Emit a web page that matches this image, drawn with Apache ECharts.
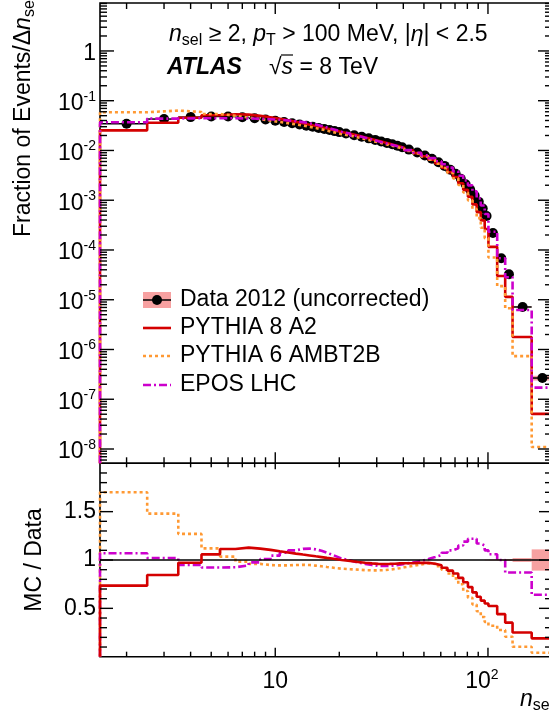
<!DOCTYPE html>
<html><head><meta charset="utf-8">
<script src="https://cdn.jsdelivr.net/npm/echarts@6/dist/echarts.min.js"></script>
<style>html,body{margin:0;padding:0;background:#fff;}#c{width:549px;height:720px;}</style>
</head><body><div id="c"></div>
<script>
// ---------------- data ----------------
const binEdges = [1.5,2.5,3.5,4.5,5.5,6.5,7.5,8.5,9.5,10.5,11.5,12.5,13.5,14.5,15.5,16.5,17.5,18.5,19.5,20.5,
  22.5,24.5,26.5,28.5,30.5,32.5,34.5,36.5,38.5,40.5,
  44.5,48.5,52.5,56.5,60.5,64.5,68.5,72.5,76.5,80.5,84.5,88.5,92.5,96.5,100.5,
  110.5,120.5,130.5,160.5,200];
const dataValues = [0.0345,0.0428,0.0468,0.0482,0.0480,0.0466,0.0444,0.0420,0.0396,0.0373,0.0352,0.0333,0.0315,0.0299,0.0284,0.0270,0.0257,0.0245,0.0234,
  0.0219,0.0203,0.0188,0.0175,0.0163,0.0152,0.0142,0.0133,0.0124,0.0116,
  0.0104,0.0091,0.0079,0.0068,0.0058,0.0049,0.0041,0.0034,0.0027,0.0021,0.00163,0.00124,0.00093,0.00068,0.00048,
  0.00022,6.8e-5,3.25e-5,7.15e-6,2.67e-7];
const dataRelErr = [0,0,0,0,0,0,0,0,0,0,0,0,0,0,0,0,0,0,0,
  0,0,0,0,0,0,0,0,0,0,
  0,0,0,0,0,0,0,0,0,0,0,0,0,0,0.003,
  0.005,0.008,0.01,0.02,0.11];
const pythia8Ratio = [0.735,0.845,0.972,1.058,1.114,1.128,1.118,1.105,1.09,1.078,1.066,1.056,1.047,1.038,1.03,1.022,1.015,1.008,1.0,
  0.99,0.98,0.972,0.965,0.96,0.958,0.96,0.962,0.965,0.966,
  0.968,0.972,0.97,0.962,0.945,0.92,0.89,0.86,0.815,0.77,0.72,0.665,0.62,0.58,0.55,
  0.525,0.44,0.352,0.25,0.19];
const pythia6Ratio = [1.70,1.48,1.27,1.12,1.035,0.983,0.96,0.948,0.944,0.945,0.948,0.95,0.948,0.942,0.935,0.928,0.922,0.915,0.91,
  0.905,0.9,0.895,0.893,0.893,0.895,0.9,0.907,0.915,0.925,
  0.94,0.955,0.965,0.96,0.935,0.9,0.86,0.81,0.75,0.68,0.61,0.54,0.47,0.41,0.36,
  0.32,0.276,0.207,0.103,0.041];
const eposRatio = [1.07,1.02,0.948,0.922,0.925,0.945,0.975,1.01,1.045,1.075,1.1,1.115,1.118,1.11,1.095,1.075,1.055,1.035,1.015,
  0.995,0.975,0.96,0.948,0.94,0.938,0.94,0.945,0.952,0.96,
  0.975,0.99,1.01,1.03,1.05,1.075,1.1,1.12,1.15,1.19,1.22,1.22,1.17,1.15,1.1,
  1.06,1.0,0.87,0.87,0.64];
const seriesNames = ['Data 2012 (uncorrected)','PYTHIA 8 A2','PYTHIA 6 AMBT2B','EPOS LHC'];
// axis ticks
const xMajorTicks = [10, 100];
const xMinorTicks = [2,3,4,5,6,7,8,9,20,30,40,50,60,70,80,90];
const yDecades = [-9,-8,-7,-6,-5,-4,-3,-2,-1,0];
const yMinorMantissas = [2,3,4,5,6,7,8,9];
const ratioMajorTicks = [0.5,1,1.5];
const ratioMinorTicks = [0.1,0.2,0.3,0.4,0.6,0.7,0.8,0.9,1.1,1.2,1.3,1.4,1.6,1.7,1.8,1.9];

// ---------------- style ----------------
const FF = '"Liberation Sans", Arial, Helvetica, sans-serif';
const RED = '#d40000', ORANGE = '#ff9933', MAGENTA = '#cc00cc', PINK = '#f7a1a1';
const X_MIN = 1.5, X_MAX = 200, Y_MIN = 5.16e-9, Y_MAX = 9.2;
const FS = 23;

const nb = dataValues.length;
const lo = i => binEdges[i], hi = i => binEdges[i+1];
const centers = dataValues.map((v,i) => (lo(i)+hi(i))/2);

function histPoints(values, floor) {
  const pts = [[binEdges[0], floor]];
  values.forEach((v,i) => pts.push([binEdges[i], v]));
  pts.push([binEdges[nb], values[nb-1]]);
  pts.push([binEdges[nb], floor]);
  return pts;
}
const p8Top = dataValues.map((d,i) => d*pythia8Ratio[i]);
const p6Top = dataValues.map((d,i) => d*pythia6Ratio[i]);
const eposTop = dataValues.map((d,i) => d*eposRatio[i]);

function stepSeries(name, pts, color, type, xi, yi, z) {
  return {type:'line', name, xAxisIndex:xi, yAxisIndex:yi, data:pts, step:'end', showSymbol:false, symbol:'none',
    lineStyle:{color, width:2.6, type, cap:'butt', opacity:1}, itemStyle:{color}, z, silent:true, animation:false};
}

// tick marks drawn through the axes' own scales
function tickData(xRef, yRef, yMaj, yMin) {
  const d = [];
  xMajorTicks.forEach(v => d.push([v, yRef, 0]));
  xMinorTicks.forEach(v => d.push([v, yRef, 1]));
  yMaj.forEach(v => d.push([xRef, v, 2]));
  yMin.forEach(v => d.push([xRef, v, 3]));
  return d;
}
function tickSeries(xi, yi, data, len) {
  return {type:'custom', xAxisIndex:xi, yAxisIndex:yi, data, clip:false, silent:true, z:20, animation:false,
    renderItem(params, api) {
      const cs = params.coordSys;
      const k = api.value(2);
      const p = api.coord([api.value(0), api.value(1)]);
      const segs = [];
      if (k < 2) {
        const b = cs.y + cs.height;
        segs.push([p[0], b, p[0], b - len.xb[k]]);
        segs.push([p[0], cs.y, p[0], cs.y + len.xt[k]]);
      } else {
        const L = len.y[k-2];
        segs.push([cs.x, p[1], cs.x + L, p[1]]);
        segs.push([cs.x + cs.width, p[1], cs.x + cs.width - L, p[1]]);
      }
      return {type:'group', children: segs.map(s => ({type:'line', shape:{x1:s[0],y1:s[1],x2:s[2],y2:s[3]},
        style:{stroke:'#000', lineWidth:1.4}}))};
    }};
}
const yMajTop = yDecades.filter(k => k >= -8).map(k => Math.pow(10, k));
const yMinTop = [];
yDecades.forEach(k => yMinorMantissas.forEach(m => { const v = m*Math.pow(10,k); if (v > Y_MIN && v < Y_MAX) yMinTop.push(v); }));

const dataItems = dataValues.map((v,i) => [lo(i), hi(i), v, dataRelErr[i]]);
const ratioBandItems = dataValues.map((v,i) => [lo(i), hi(i), 1, dataRelErr[i]]);

const richSup = {fontSize:14, lineHeight:13, verticalAlign:'top', fontFamily:FF, color:'#000'};
const richBase = {fontSize:FS, lineHeight:28, verticalAlign:'middle', fontFamily:FF, color:'#000'};
const richItal = Object.assign({}, richBase, {fontStyle:'italic'});
const richSub = {fontSize:16, lineHeight:11, verticalAlign:'bottom', fontFamily:FF, color:'#000'};

const chart = echarts.init(document.getElementById('c'), null, {renderer:'canvas'});
const option = {
  animation:false,
  backgroundColor:'#fff',
  grid:[
    {left:100, top:3, right:-3, height:460.3, show:true, borderColor:'#000', borderWidth:1.6, backgroundColor:'transparent', containLabel:false, outerBoundsMode:'none'},
    {left:100, top:463.3, right:-3, height:193.4, show:true, borderColor:'#000', borderWidth:1.6, backgroundColor:'transparent', containLabel:false, outerBoundsMode:'none'}
  ],
  xAxis:[
    {type:'log', gridIndex:0, min:X_MIN, max:X_MAX, logBase:10, axisLine:{show:false}, axisTick:{show:false}, splitLine:{show:false}, axisLabel:{show:false}},
    {type:'log', gridIndex:1, min:X_MIN, max:X_MAX, logBase:10, axisLine:{show:false}, axisTick:{show:false}, splitLine:{show:false},
      axisLabel:{show:true, margin:11, fontSize:FS, fontFamily:FF, color:'#000', lineHeight:28, showMinLabel:false, showMaxLabel:false,
        rich:{b:richBase, s:richSup, s2:Object.assign({}, richSup, {padding:[0,12,0,0]})},
        formatter: v => { const l = Math.log10(v), r = Math.round(l); if (Math.abs(l-r) > 1e-6) return ''; if (r === 1) return '{b|10}'; if (r === 2) return '{b|10}{s2|2}'; return ''; }}}
  ],
  yAxis:[
    {type:'log', gridIndex:0, min:Y_MIN, max:Y_MAX, logBase:10, axisLine:{show:false}, axisTick:{show:false}, splitLine:{show:false},
      axisLabel:{show:true, margin:4, fontSize:FS, fontFamily:FF, color:'#000', lineHeight:28, showMinLabel:false, showMaxLabel:false, padding:[6,0,0,0],
        rich:{b:richBase, s:richSup},
        formatter: v => { const l = Math.log10(v), r = Math.round(l); if (Math.abs(l-r) > 1e-6) return ''; if (r === 0) return '{b|1}'; return '{b|10}{s|' + r + '}'; }}},
    {type:'value', gridIndex:1, min:0, max:2, interval:0.5, axisLine:{show:false}, axisTick:{show:false}, splitLine:{show:false},
      axisLabel:{show:true, margin:4, fontSize:FS, fontFamily:FF, color:'#000', padding:[5,0,0,0],
        formatter: v => (v === 0.5 ? '0.5' : v === 1 ? '1' : v === 1.5 ? '1.5' : '')}}
  ],
  series:[
    {type:'custom', xAxisIndex:1, yAxisIndex:1, data:ratioBandItems, encode:{x:[0,1], y:2}, z:1, silent:true,
      renderItem(params, api) {
        const e = api.value(3); if (!e) return null;
        const a = api.coord([api.value(0), 1+e]), b = api.coord([api.value(1), 1-e]);
        return {type:'rect', shape:{x:a[0], y:a[1], width:b[0]-a[0], height:b[1]-a[1]}, style:{fill:PINK}};
      },
      markLine:{silent:true, symbol:'none', label:{show:false}, lineStyle:{color:'#000', width:1.5, type:'solid', opacity:1}, data:[{yAxis:1}]}},
    stepSeries(seriesNames[2], histPoints(pythia6Ratio, 0), ORANGE, [3,3], 1, 1, 3),
    stepSeries(seriesNames[3], histPoints(eposRatio, 0), MAGENTA, [8,3,2,3], 1, 1, 4),
    stepSeries(seriesNames[1], histPoints(pythia8Ratio, 0), RED, 'solid', 1, 1, 5),
    // top panel: data first, simulations drawn over it
    {type:'custom', xAxisIndex:0, yAxisIndex:0, data:dataItems, encode:{x:[0,1], y:2}, z:2, silent:true,
      renderItem(params, api) {
        const v = api.value(2), e = api.value(3);
        const a = api.coord([api.value(0), v]), b = api.coord([api.value(1), v]);
        const ch = [];
        if (e) {
          const t = api.coord([api.value(0), v*(1+e)]), u = api.coord([api.value(1), v*(1-e)]);
          ch.push({type:'rect', shape:{x:t[0], y:t[1], width:u[0]-t[0], height:u[1]-t[1]}, style:{fill:PINK}});
        }
        ch.push({type:'line', shape:{x1:a[0], y1:a[1], x2:b[0], y2:b[1]}, style:{stroke:'#000', lineWidth:1.5}});
        return {type:'group', children:ch};
      }},
    {type:'scatter', name:seriesNames[0], xAxisIndex:0, yAxisIndex:0, data:dataValues.map((v,i) => [centers[i], v]),
      symbol:'circle', symbolSize:10, itemStyle:{color:'#000', opacity:1, borderWidth:0}, z:3, silent:true},
    stepSeries(seriesNames[1], histPoints(p8Top, Y_MIN), RED, 'solid', 0, 0, 5),
    stepSeries(seriesNames[2], histPoints(p6Top, Y_MIN), ORANGE, [3,3], 0, 0, 6),
    stepSeries(seriesNames[3], histPoints(eposTop, Y_MIN), MAGENTA, [8,3,2,3], 0, 0, 7),
    tickSeries(0, 0, tickData(10, 1e-3, yMajTop, yMinTop), {xb:[11,6], xt:[11,6], y:[14,7]}),
    tickSeries(1, 1, tickData(10, 1, ratioMajorTicks, ratioMinorTicks), {xb:[9,5], xt:[6,4], y:[13,7]})
  ],
  graphic:[
    {type:'text', x:169, y:35, style:{text:'{i|n}{sub|sel}{r| ≥ 2, }{i|p}{sub|T}{r| > 100 MeV, |}{i|η}{r|| < 2.5}', verticalAlign:'middle', align:'left',
      rich:{r:richBase, i:richItal, sub:richSub}}},
    {type:'text', x:167, y:67.5, style:{text:'ATLAS', font:'italic bold 23px ' + FF, fill:'#000', verticalAlign:'middle', align:'left'}},
    {type:'text', x:269, y:67.5, style:{text:'{r|√}{i|s}{r| = 8 TeV}', verticalAlign:'middle', align:'left',
      rich:{r:richBase, i:richItal}}},
    {type:'line', shape:{x1:281, y1:55, x2:293, y2:55}, style:{stroke:'#000', lineWidth:1.2}},
    {type:'text', x:24, y:237, rotation:Math.PI/2, style:{text:'{r|Fraction of Events/Δ}{i|n}{sub|sel}', verticalAlign:'middle', align:'left',
      rich:{r:richBase, i:richItal, sub:richSub}}},
    {type:'text', x:35, y:560, rotation:Math.PI/2, style:{text:'MC / Data', font:FS + 'px ' + FF, fill:'#000', verticalAlign:'middle', align:'center'}},
    {type:'text', x:520, y:700, style:{text:'{i|n}{sub|sel}', verticalAlign:'middle', align:'left',
      rich:{i:richItal, sub:richSub}}},
    // legend
    {type:'rect', shape:{x:143, y:292, width:28, height:16}, style:{fill:PINK}},
    {type:'line', shape:{x1:143, y1:300, x2:171, y2:300}, style:{stroke:'#000', lineWidth:1.5}},
    {type:'circle', shape:{cx:157, cy:300, r:5}, style:{fill:'#000'}},
    {type:'text', x:180, y:300, style:{text:seriesNames[0], font:FS + 'px ' + FF, fill:'#000', verticalAlign:'middle'}},
    {type:'line', shape:{x1:143, y1:328, x2:171, y2:328}, style:{stroke:RED, lineWidth:2.6}},
    {type:'text', x:180, y:328, style:{text:seriesNames[1], font:FS + 'px ' + FF, fill:'#000', verticalAlign:'middle'}},
    {type:'line', shape:{x1:143, y1:356, x2:171, y2:356}, style:{stroke:ORANGE, lineWidth:2.6, lineDash:[3,3]}},
    {type:'text', x:180, y:356, style:{text:seriesNames[2], font:FS + 'px ' + FF, fill:'#000', verticalAlign:'middle'}},
    {type:'line', shape:{x1:143, y1:385, x2:171, y2:385}, style:{stroke:MAGENTA, lineWidth:2.6, lineDash:[8,3,2,3]}},
    {type:'text', x:180, y:385, style:{text:seriesNames[3], font:FS + 'px ' + FF, fill:'#000', verticalAlign:'middle'}}
  ]
};
chart.setOption(option);
</script></body></html>
